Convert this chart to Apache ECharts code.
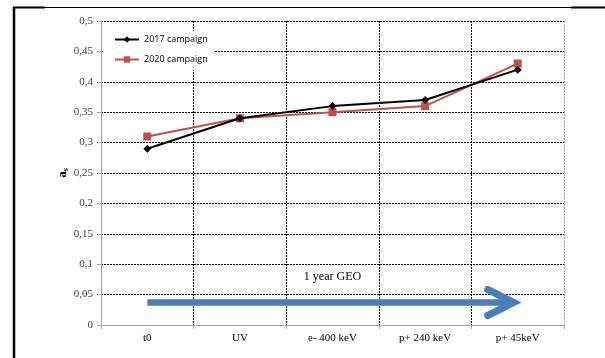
<!DOCTYPE html>
<html>
<head>
<meta charset="utf-8">
<script src="https://cdn.jsdelivr.net/npm/echarts@6/dist/echarts.min.js"></script>
<style>
  html, body { margin: 0; padding: 0; background: #fff; }
  #chart { width: 605px; height: 358px; }
</style>
</head>
<body>
<div id="chart"></div>
<script>
// Exposure steps and measured solar absorptance for both campaigns
const steps = ['t0', 'UV', 'e- 400 keV', 'p+ 240 keV', 'p+ 45keV'];
const campaign2017 = [0.29, 0.34, 0.36, 0.37, 0.42];
const campaign2020 = [0.31, 0.34, 0.35, 0.36, 0.43];
const yTicks = [0, 0.05, 0.1, 0.15, 0.2, 0.25, 0.3, 0.35, 0.4, 0.45, 0.5];

// Timeline arrow: runs from the first to the last step at this height
const arrowLevel = 0.037;
const arrowText = '1 year GEO';
const arrowTextLevel = 0.079;

const serif = '"Liberation Serif", "Times New Roman", serif';
const sans = '"Open Sans", "Liberation Sans", sans-serif';

const chart = echarts.init(document.getElementById('chart'), null, { renderer: 'canvas' });

const option = {
  animation: false,
  backgroundColor: '#fff',
  grid: { left: 101, right: 41, top: 21, bottom: 33, containLabel: false },
  legend: {
    left: 104, top: 31,
    orient: 'vertical',
    itemGap: 11,
    itemWidth: 24, itemHeight: 8,
    backgroundColor: '#fff',
    padding: [4, 6, 6, 10],
    textStyle: { fontFamily: sans, fontSize: 9, color: '#000' },
    data: ['2017 campaign', '2020 campaign']
  },
  xAxis: {
    type: 'category',
    data: steps,
    boundaryGap: true,
    axisLine: { lineStyle: { color: '#a6a6a6', width: 1 } },
    axisTick: { show: true, length: 4, lineStyle: { color: '#a6a6a6' } },
    axisLabel: { fontFamily: serif, fontSize: 11, color: '#000', margin: 8 },
    splitLine: {
      show: true,
      lineStyle: {
        color: ['#a6a6a6', '#000', '#000', '#000', '#000', '#a6a6a6'],
        type: [2, 1], width: 1
      }
    }
  },
  yAxis: {
    type: 'value',
    min: 0, max: 0.5, interval: 0.05,
    name: '{a|a}{s|s}',
    nameLocation: 'middle',
    nameGap: 31,
    nameMoveOverlap: false,
    nameRotate: 90,
    nameTextStyle: {
      rich: {
        a: { fontFamily: serif, fontSize: 13, fontWeight: 'bold', color: '#000' },
        s: { fontFamily: serif, fontSize: 8, fontWeight: 'bold', color: '#000', verticalAlign: 'bottom', padding: [6, 0, 0, 0] }
      }
    },
    axisLine: { show: true, lineStyle: { color: '#a6a6a6', width: 1 } },
    axisTick: { show: true, length: 4, lineStyle: { color: '#a6a6a6' } },
    axisLabel: {
      fontFamily: serif, fontSize: 11, color: '#404040', margin: 8,
      formatter: v => {
        const t = yTicks.find(k => Math.abs(k - v) < 1e-9);
        return String(t !== undefined ? t : v).replace('.', ',');
      }
    },
    splitLine: { show: true, lineStyle: { color: '#000', type: [2, 1], width: 1 } }
  },
  series: [
    {
      name: '2017 campaign', type: 'line', data: campaign2017,
      symbol: 'diamond', symbolSize: 8, z: 3,
      lineStyle: { color: '#000', width: 2 },
      itemStyle: { color: '#000' }
    },
    {
      name: '2020 campaign', type: 'line', data: campaign2020,
      symbol: 'rect', symbolSize: 8, z: 2,
      lineStyle: { color: '#c0504d', width: 2 },
      itemStyle: { color: '#c0504d' }
    }
  ]
};

chart.setOption(option);

// Overlay: timeline arrow, its caption, and the surrounding frame
function drawOverlay() {
  const start = chart.convertToPixel({ xAxisIndex: 0, yAxisIndex: 0 }, [0, arrowLevel]);
  const end = chart.convertToPixel({ xAxisIndex: 0, yAxisIndex: 0 }, [steps.length - 1, arrowLevel]);
  const label = chart.convertToPixel({ xAxisIndex: 0, yAxisIndex: 0 }, [2, arrowTextLevel]);
  const tipX = end[0] - 4;
  const head = 26, spread = 13;
  const blue = '#4a7ebb';
  chart.setOption({
    graphic: [
      { type: 'line', z: 10, shape: { x1: start[0], y1: start[1], x2: tipX - 4, y2: end[1] },
        style: { stroke: blue, lineWidth: 6.5 } },
      { type: 'polyline', z: 10,
        shape: { points: [[tipX - head, end[1] - spread], [tipX, end[1]], [tipX - head, end[1] + spread]] },
        style: { stroke: blue, lineWidth: 7, lineCap: 'round', lineJoin: 'miter', fill: null } },
      { type: 'text', z: 10, x: label[0], y: label[1],
        style: { text: arrowText, fontFamily: serif, fontSize: 12, fill: '#000', align: 'center', verticalAlign: 'middle' } },
      // frame
      { type: 'line', shape: { x1: 14, y1: 7, x2: 14, y2: 358 }, style: { stroke: '#000', lineWidth: 2.5 } },
      { type: 'line', shape: { x1: 13, y1: 7.5, x2: 571, y2: 7.5 }, style: { stroke: '#000', lineWidth: 1 } },
      { type: 'line', shape: { x1: 13, y1: 7.5, x2: 45, y2: 7.5 }, style: { stroke: '#000', lineWidth: 2 } },
      { type: 'line', shape: { x1: 571, y1: 7.5, x2: 605, y2: 7.5 }, style: { stroke: '#000', lineWidth: 2 } }
    ]
  });
}
drawOverlay();
</script>
</body>
</html>
